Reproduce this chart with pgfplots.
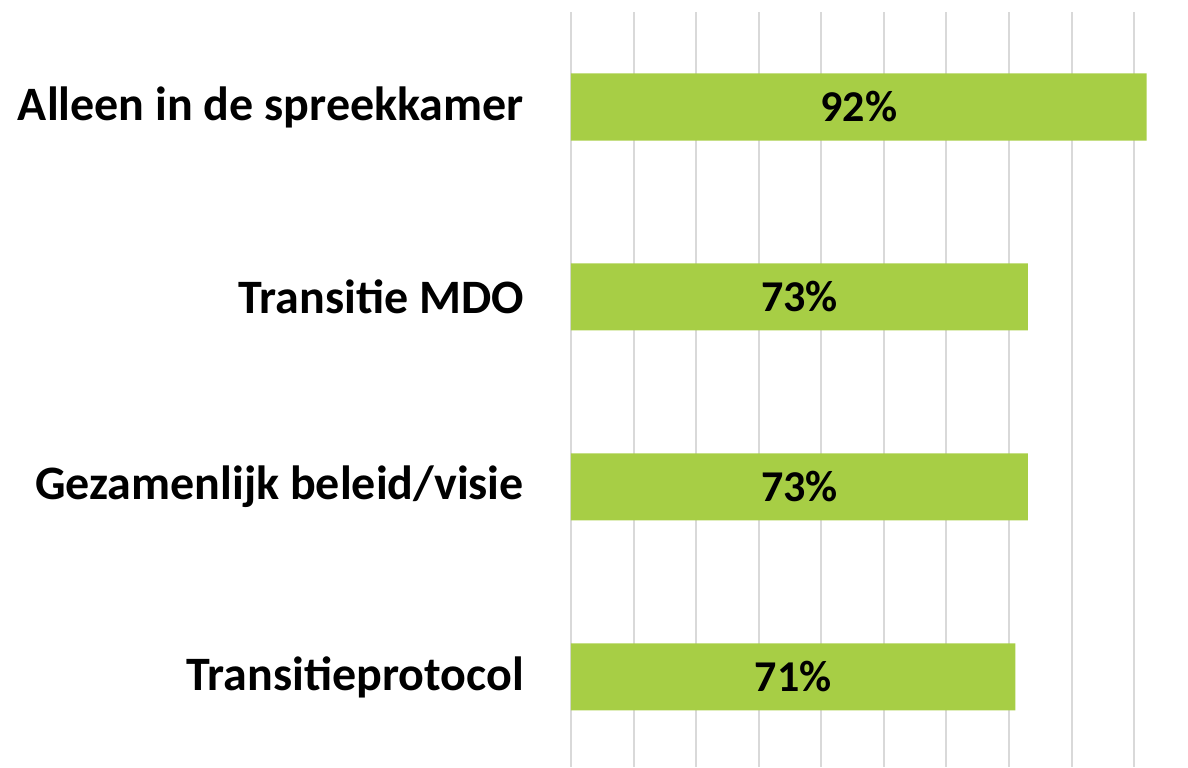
\documentclass[border=0pt]{standalone}
\usepackage{pgfplots}
\usepackage{pgfplotstable}
\pgfplotsset{compat=1.18}
\usepackage{fontspec}
\setmainfont{Carlito}
\definecolor{bargreen}{RGB}{167,206,69}
\definecolor{gridgray}{RGB}{217,217,217}
\pgfplotstableread{
idx v
0 92
1 73
2 73
3 71
}\data
\begin{document}
\begin{tikzpicture}
\begin{axis}[
  name=ax,
  width=308.5pt, height=377.5pt, scale only axis,
  xmin=0, xmax=98.6,
  ymin=-0.5, ymax=3.474,
  y dir=reverse,
  axis line style={draw=none},
  xmajorgrids,
  xtick={0,10,...,90},
  xticklabels={},
  grid style={gridgray, line width=1pt},
  ytick={0,1,2,3},
  yticklabels={Alleen in de spreekkamer, Transitie MDO, Gezamenlijk beleid/visie, Transitieprotocol},
  yticklabel style={font=\fontsize{24}{28}\selectfont\bfseries, anchor=east, xshift=-20pt},
  major tick length=0pt,
  tick style={draw=none},
  clip=false,
]
\addplot[xbar, bar width=33.5pt, fill=bargreen, draw=none] table[x=v, y=idx] {\data};
\addplot[draw=none, mark=none,
  nodes near coords={\pgfmathprintnumber[assume math mode=true]{\pgfplotspointmeta}\%},
  point meta=\thisrow{v},
  every node near coord/.style={anchor=center, font=\fontsize{22}{26}\selectfont\bfseries, black}]
  table[x expr=\thisrow{v}/2, y=idx] {\data};
\end{axis}
\pgfresetboundingbox
\path ([xshift=-285.5pt]ax.south west) rectangle ([yshift=6pt]ax.north east);
\end{tikzpicture}
\end{document}
